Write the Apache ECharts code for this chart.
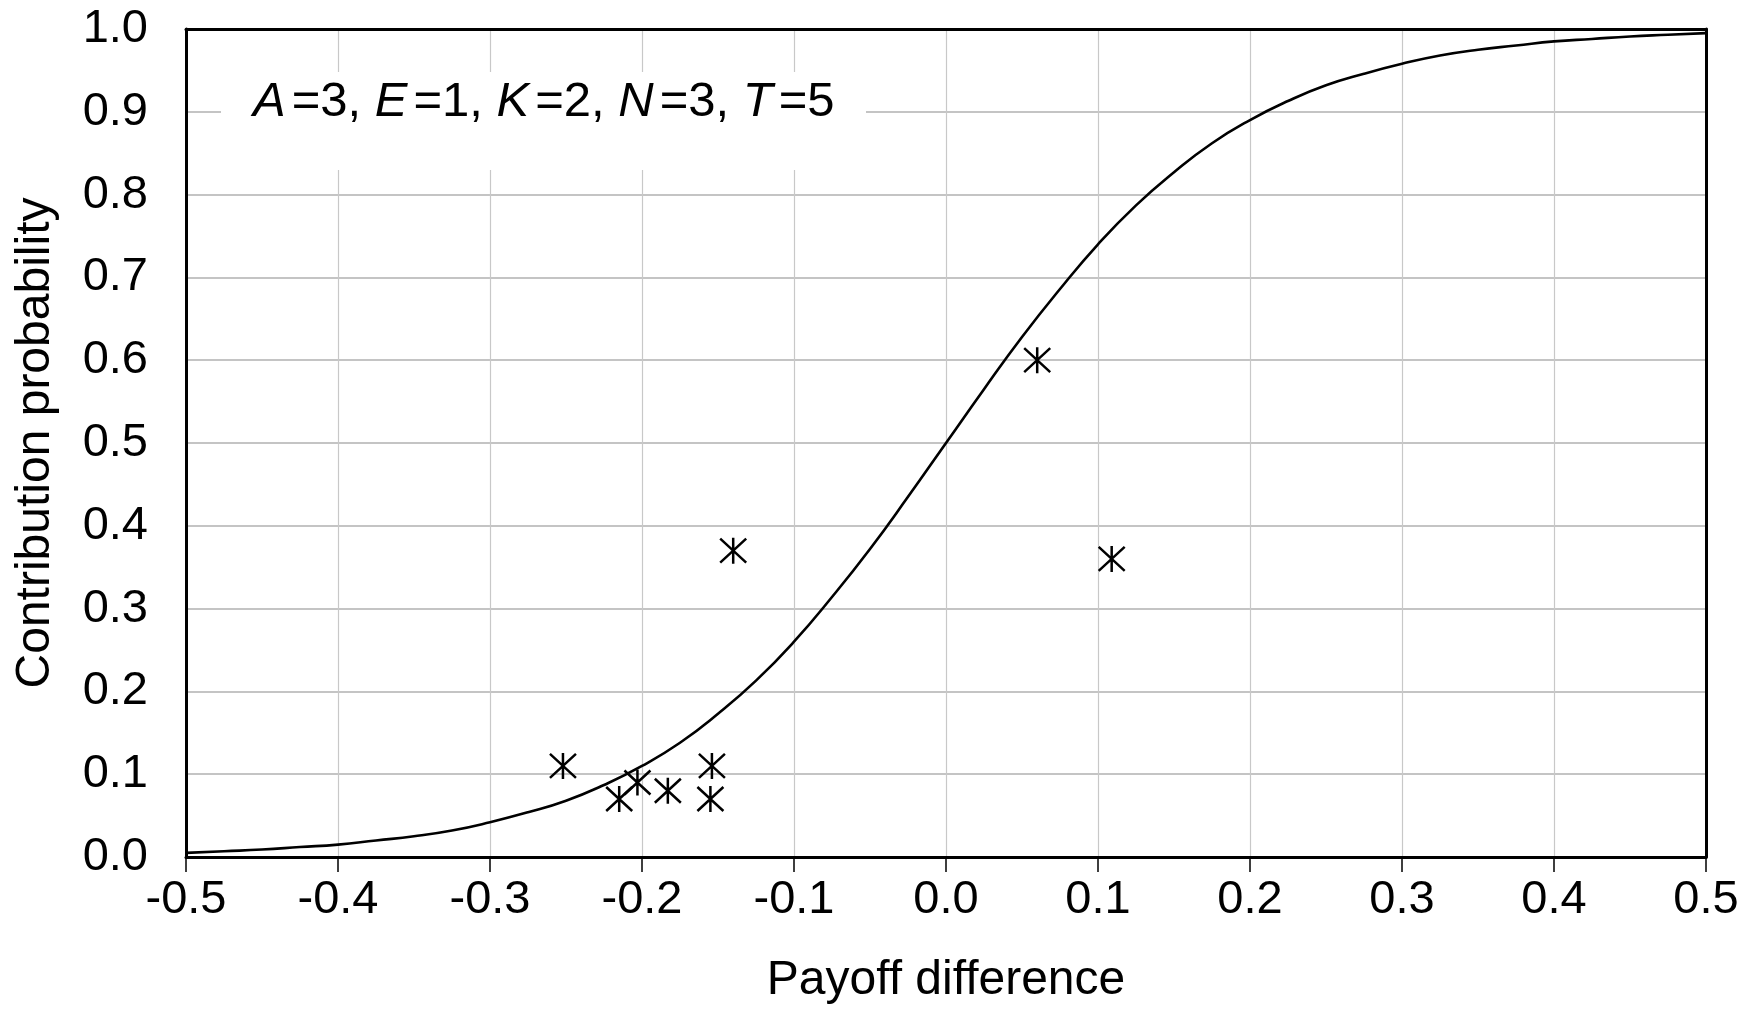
<!DOCTYPE html>
<html>
<head>
<meta charset="utf-8">
<title>Contribution probability</title>
<script src="https://cdn.jsdelivr.net/npm/echarts@6/dist/echarts.min.js"></script>
<style>
  html, body { margin: 0; padding: 0; background: #fff; }
  #chart { width: 1745px; height: 1032px; }
</style>
</head>
<body>
<div id="chart"></div>
<script>
// 拟合曲线（从图上读取，步长 0.025）
const curveX = [-0.5, -0.475, -0.45, -0.425, -0.4, -0.375, -0.35, -0.325, -0.3, -0.275,
                -0.25, -0.225, -0.2, -0.175, -0.15, -0.125, -0.1, -0.075, -0.05, -0.025,
                0, 0.025, 0.05, 0.075, 0.1, 0.125, 0.15, 0.175, 0.2, 0.225,
                0.25, 0.275, 0.3, 0.325, 0.35, 0.375, 0.4, 0.425, 0.45, 0.475, 0.5];
const curveY = [0.005, 0.007, 0.009, 0.012, 0.015, 0.020, 0.025, 0.032, 0.042, 0.054,
                0.068, 0.087, 0.110, 0.138, 0.173, 0.213, 0.260, 0.314, 0.372, 0.435,
                0.500, 0.565, 0.628, 0.686, 0.740, 0.787, 0.827, 0.862, 0.890, 0.913,
                0.932, 0.946, 0.958, 0.968, 0.975, 0.980, 0.985, 0.988, 0.991, 0.993, 0.995];

// 观测点
const obsX = [-0.252, -0.215, -0.203, -0.183, -0.154, -0.155, -0.140, 0.060, 0.109];
const obsY = [0.11, 0.07, 0.09, 0.08, 0.11, 0.07, 0.37, 0.60, 0.36];

const fontName = 'Liberation Sans';

function initChart() {
    const chart = echarts.init(document.getElementById('chart'));
    const curveData = curveX.map((x, i) => [x, curveY[i]]);
    const obsData = obsX.map((x, i) => [x, obsY[i]]);

    // 边框用的附加坐标轴
    const frameAxis = {
        type: 'value',
        axisLine: { show: true, onZero: false, lineStyle: { color: '#000', width: 3 } },
        axisTick: { show: false }, axisLabel: { show: false }, splitLine: { show: false }
    };

    chart.setOption({
        animation: false,
        backgroundColor: '#fff',
        grid: { left: 186, right: 39, top: 29, bottom: 175 },
        xAxis: [{
            type: 'value', min: -0.5, max: 0.5, interval: 0.1,
            name: 'Payoff difference', nameLocation: 'middle', nameGap: 100,
            nameTextStyle: { fontFamily: fontName, fontSize: 48, color: '#000' },
            axisLine: { show: true, onZero: false, lineStyle: { color: '#000', width: 3 } },
            axisTick: { show: true, length: 15, lineStyle: { color: '#000', width: 1.5 } },
            axisLabel: { margin: 20, fontFamily: fontName, fontSize: 47, color: '#000',
                         formatter: v => v.toFixed(1) },
            splitLine: { show: true, showMinLine: false, showMaxLine: false,
                         lineStyle: { color: '#c8c8c8', width: 1.2 } }
        }, Object.assign({ position: 'top', min: -0.5, max: 0.5 }, frameAxis)],
        yAxis: [{
            type: 'value', min: 0, max: 1, interval: 0.1,
            name: 'Contribution probability', nameLocation: 'middle', nameGap: 126,
            nameTextStyle: { fontFamily: fontName, fontSize: 48, color: '#000' },
            axisLine: { show: true, onZero: false, lineStyle: { color: '#000', width: 3 } },
            axisTick: { show: false },
            axisLabel: { margin: 38, fontFamily: fontName, fontSize: 47, color: '#000',
                         formatter: v => v.toFixed(1) },
            splitLine: { show: true, showMinLine: false, showMaxLine: false,
                         lineStyle: { color: '#c4c4c4', width: 2 } }
        }, Object.assign({ position: 'right', min: 0, max: 1 }, frameAxis)],
        graphic: [{
            type: 'rect', z: 50,
            shape: { x: 221, y: 72, width: 645, height: 98 },
            style: { fill: '#fff' }
        }, {
            type: 'text', z: 51, x: 253, y: 102,
            style: {
                text: '{i|A}=3, {i|E}=1, {i|K}=2, {i|N}=3, {i|T}=5',
                fontFamily: fontName, fontSize: 49, fill: '#000',
                verticalAlign: 'middle',
                rich: { i: { fontStyle: 'italic', fontFamily: fontName, fontSize: 49, padding: [0, 6, 0, 0] } }
            }
        }],
        series: [{
            type: 'line', data: curveData, smooth: 0.5,
            showSymbol: false, symbol: 'none',
            lineStyle: { color: '#000', width: 2.6, join: 'round' }, z: 3
        }, {
            type: 'scatter', data: obsData,
            symbol: 'path://M13,0 L13,26 M1,1 L25,25 M25,1 L1,25',
            symbolSize: 26,
            itemStyle: { color: 'none', borderColor: '#000', borderWidth: 2.5, opacity: 1 }, z: 4
        }]
    });
}

initChart();
</script>
</body>
</html>
